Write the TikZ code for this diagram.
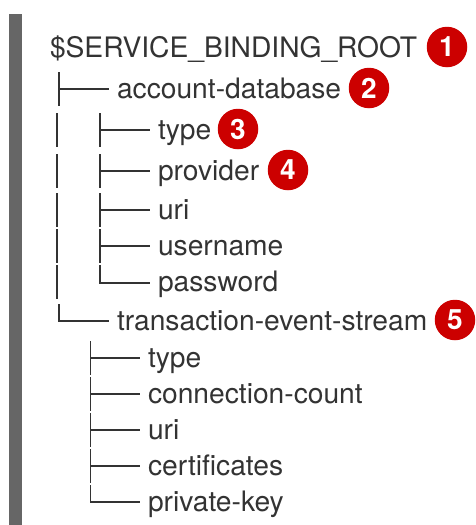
\documentclass[tikz,border=0pt]{standalone}
\usepackage{fontspec}
\setmainfont{TeX Gyre Heros}
\definecolor{ink}{HTML}{333333}
\definecolor{barc}{HTML}{666666}
\definecolor{badgec}{HTML}{CC0000}
\tikzset{
  lbl/.style={anchor=base west,inner sep=0pt,outer sep=0pt,text=ink,font=\fontsize{28.2}{28.2}\selectfont},
  badge/.style={circle,fill=badgec,text=white,minimum size=40.5pt,inner sep=0pt,font=\fontsize{28}{28}\selectfont\bfseries},
  glyph/.style={draw=ink,line width=1.6pt},
}
\begin{document}
\begin{tikzpicture}[x=1pt,y=-1pt]
\useasboundingbox (0,0) rectangle (476,525);
\fill[barc] (9,14) rectangle (22,525);
\node[lbl] (root) at (50,57) {\$SERVICE\_BINDING\_ROOT};
\node[lbl] (acct) at (117,98) {account-database};
\node[lbl] (a1) at (158,139) {type};
\node[lbl] (a2) at (158,180) {provider};
\node[lbl] (a3) at (158,219) {uri};
\node[lbl] (a4) at (158,255) {username};
\node[lbl] (a5) at (158,291) {password};
\node[lbl] (tx) at (117,330) {transaction-event-stream};
\node[lbl] (t1) at (148,367) {type};
\node[lbl] (t2) at (148,403) {connection-count};
\node[lbl] (t3) at (148,439) {uri};
\node[lbl] (t4) at (148,475) {certificates};
\node[lbl] (t5) at (148,511) {private-key};
\node[badge] (b1) at (447,47) {1};
\node[badge] (b2) at (369,88) {2};
\node[badge] (b3) at (238,129) {3};
\node[badge] (b4) at (288,170) {4};
\node[badge] (b5) at (455,320) {5};
% level one
\draw[glyph] (59,72) -- (59,106) (59,89) -- (109,89);
\draw[glyph] (59,304) -- (59,321) -- (109,321);
\foreach \a/\b in {113/147,154/188,193/227,229/263,265/299}
  \draw[glyph] (57,\a) -- (57,\b);
% level two, first branch
\foreach \a/\b/\h in {113/147/130,154/188/171,193/227/210,229/263/246}
  \draw[glyph] (100,\a) -- (100,\b) (100,\h) -- (150,\h);
\draw[glyph] (100,265) -- (100,283) -- (150,283);
% level two, second branch
\foreach \a/\b/\h in {341/375/358,377/411/394,413/447/430,449/483/466}
  \draw[glyph] (90.5,\a) -- (90.5,\b) (90.5,\h) -- (140,\h);
\draw[glyph] (90.5,485) -- (90.5,502) -- (140,502);
\end{tikzpicture}
\end{document}
